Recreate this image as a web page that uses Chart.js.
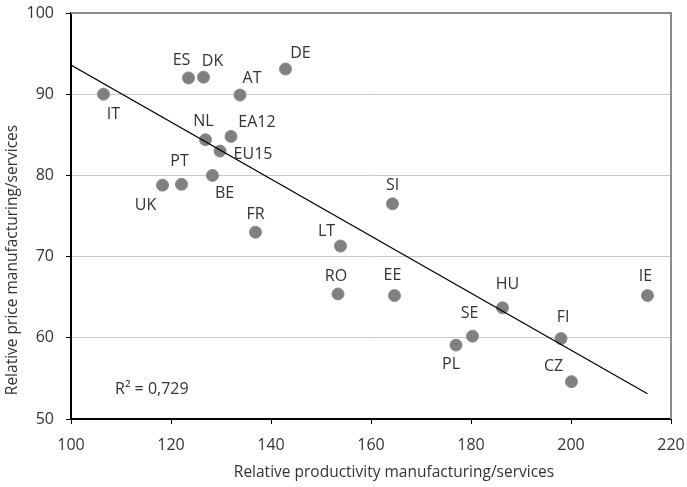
<!DOCTYPE html>
<html>
<head>
<meta charset="utf-8">
<script src="https://cdn.jsdelivr.net/npm/chart.js@4.4.0/dist/chart.umd.min.js"></script>
<style>
  body { margin: 0; background: #fff; }
  #wrap { width: 687px; height: 487px; }
</style>
</head>
<body>
<div id="wrap"><canvas id="myChart" width="687" height="487"></canvas></div>
<script>
//data
const countries = ['IT','ES','DK','AT','DE','NL','EA12','EU15','BE','PT','UK','FR','LT','RO','EE','SI','HU','SE','PL','FI','CZ','IE'];
const productivity = [106.5,123.5,126.5,133.8,142.9,126.9,132.0,129.8,128.3,122.1,118.3,136.9,153.9,153.4,164.7,164.3,186.3,180.3,177.0,198.0,200.1,215.3];
const price = [90.0,92.0,92.1,89.9,93.1,84.4,84.8,83.0,80.0,78.9,78.8,73.0,71.3,65.4,65.2,76.5,63.7,60.2,59.1,59.9,54.6,65.2];
//trend line ends as drawn in the picture
const trendX = [100, 215.3];
const trendY = [93.6, 53.1];
const xTicks = [100,120,140,160,180,200,220];
const yTicks = [50,60,70,80,90,100];
const rSquared = 'R² = 0,729';
const xTitle = 'Relative productivity manufacturing/services';
const yTitle = 'Relative price manufacturing/services';

//where each country label sits round its dot (px)
const labelOffsets = {
  IT:[10,20], ES:[-7,-18], DK:[9,-16], AT:[12,-17], DE:[15,-16], NL:[-2,-18],
  EA12:[26,-14], EU15:[33,3], BE:[12,18], PT:[-2,-23], UK:[-17,20], FR:[0,-18],
  LT:[-14,-15], RO:[-2,-18], EE:[-2,-20], SI:[0,-18], HU:[5,-23], SE:[-3,-23],
  PL:[-5,19], FI:[2,-21], CZ:[-18,-15], IE:[-2,-19]
};

const FONT = '"Open Sans", "Noto Sans", sans-serif';

const points = productivity.map((x, i) => ({x: x, y: price[i]}));
const trendLine = trendX.map((x, i) => ({x: x, y: trendY[i]}));

const extras = {
  id: 'extras',
  afterDatasetsDraw(chart) {
    const ctx = chart.ctx, a = chart.chartArea;
    const xs = chart.scales.x, ys = chart.scales.y;
    ctx.save();
    //grey frame top and right
    ctx.strokeStyle = '#8c8c8c';
    ctx.lineWidth = 2;
    ctx.beginPath();
    ctx.moveTo(a.left, a.top); ctx.lineTo(a.right, a.top); ctx.lineTo(a.right, a.bottom);
    ctx.stroke();

    //country labels
    ctx.fillStyle = '#333';
    ctx.font = '16px ' + FONT;
    ctx.textAlign = 'center';
    ctx.textBaseline = 'middle';
    const meta = chart.getDatasetMeta(1);
    meta.data.forEach((p, i) => {
      const o = labelOffsets[countries[i]] || [0, -18];
      ctx.fillText(countries[i], p.x + o[0], p.y + o[1]);
    });

    //r squared
    ctx.textAlign = 'left';
    ctx.fillText(rSquared, xs.getPixelForValue(108.8), ys.getPixelForValue(53.7));

    //axis titles
    ctx.font = '15.5px ' + FONT;
    ctx.textAlign = 'center';
    ctx.fillText(xTitle, 394, 473);
    ctx.translate(13, 260);
    ctx.rotate(-Math.PI / 2);
    ctx.fillText(yTitle, 0, 0);
    ctx.restore();
  }
};

new Chart(document.getElementById('myChart'), {
  type: 'scatter',
  data: {
    datasets: [{
      type: 'line',
      data: trendLine,
      borderColor: '#000',
      borderWidth: 1.2,
      pointRadius: 0,
      fill: false
    }, {
      data: points,
      backgroundColor: '#808080',
      borderColor: '#8a8a8a',
      borderWidth: 1,
      pointRadius: 6,
      pointHoverRadius: 6
    }]
  },
  options: {
    responsive: false,
    animation: false,
    layout: { padding: { top: 13, right: 16, left: 0, bottom: 0 } },
    plugins: { legend: { display: false }, tooltip: { enabled: false } },
    scales: {
      x: {
        type: 'linear',
        min: 100, max: 220,
        afterBuildTicks: s => { s.ticks = xTicks.map(v => ({value: v})); },
        afterFit: s => { s.height = 68; s.paddingLeft = 0; s.paddingRight = 0; },
        border: { color: '#000', width: 2 },
        grid: { drawOnChartArea: false, drawTicks: true, tickLength: 5, tickColor: '#000', tickWidth: 1 },
        ticks: { color: '#333', font: { family: FONT, size: 16 }, padding: 12, maxRotation: 0 }
      },
      y: {
        min: 50, max: 100,
        afterBuildTicks: s => { s.ticks = yTicks.map(v => ({value: v})); },
        afterFit: s => { s.width = 71; s.paddingTop = 0; s.paddingBottom = 0; },
        border: { color: '#000', width: 2 },
        grid: {
          drawTicks: true, tickLength: 5, tickColor: '#000',
          color: c => (c.tick.value === 50 || c.tick.value === 100) ? 'rgba(0,0,0,0)' : '#c8c8c8',
          lineWidth: 1
        },
        ticks: { color: '#333', font: { family: FONT, size: 16 }, padding: 12 }
      }
    }
  },
  plugins: [extras]
});
</script>
</body>
</html>
